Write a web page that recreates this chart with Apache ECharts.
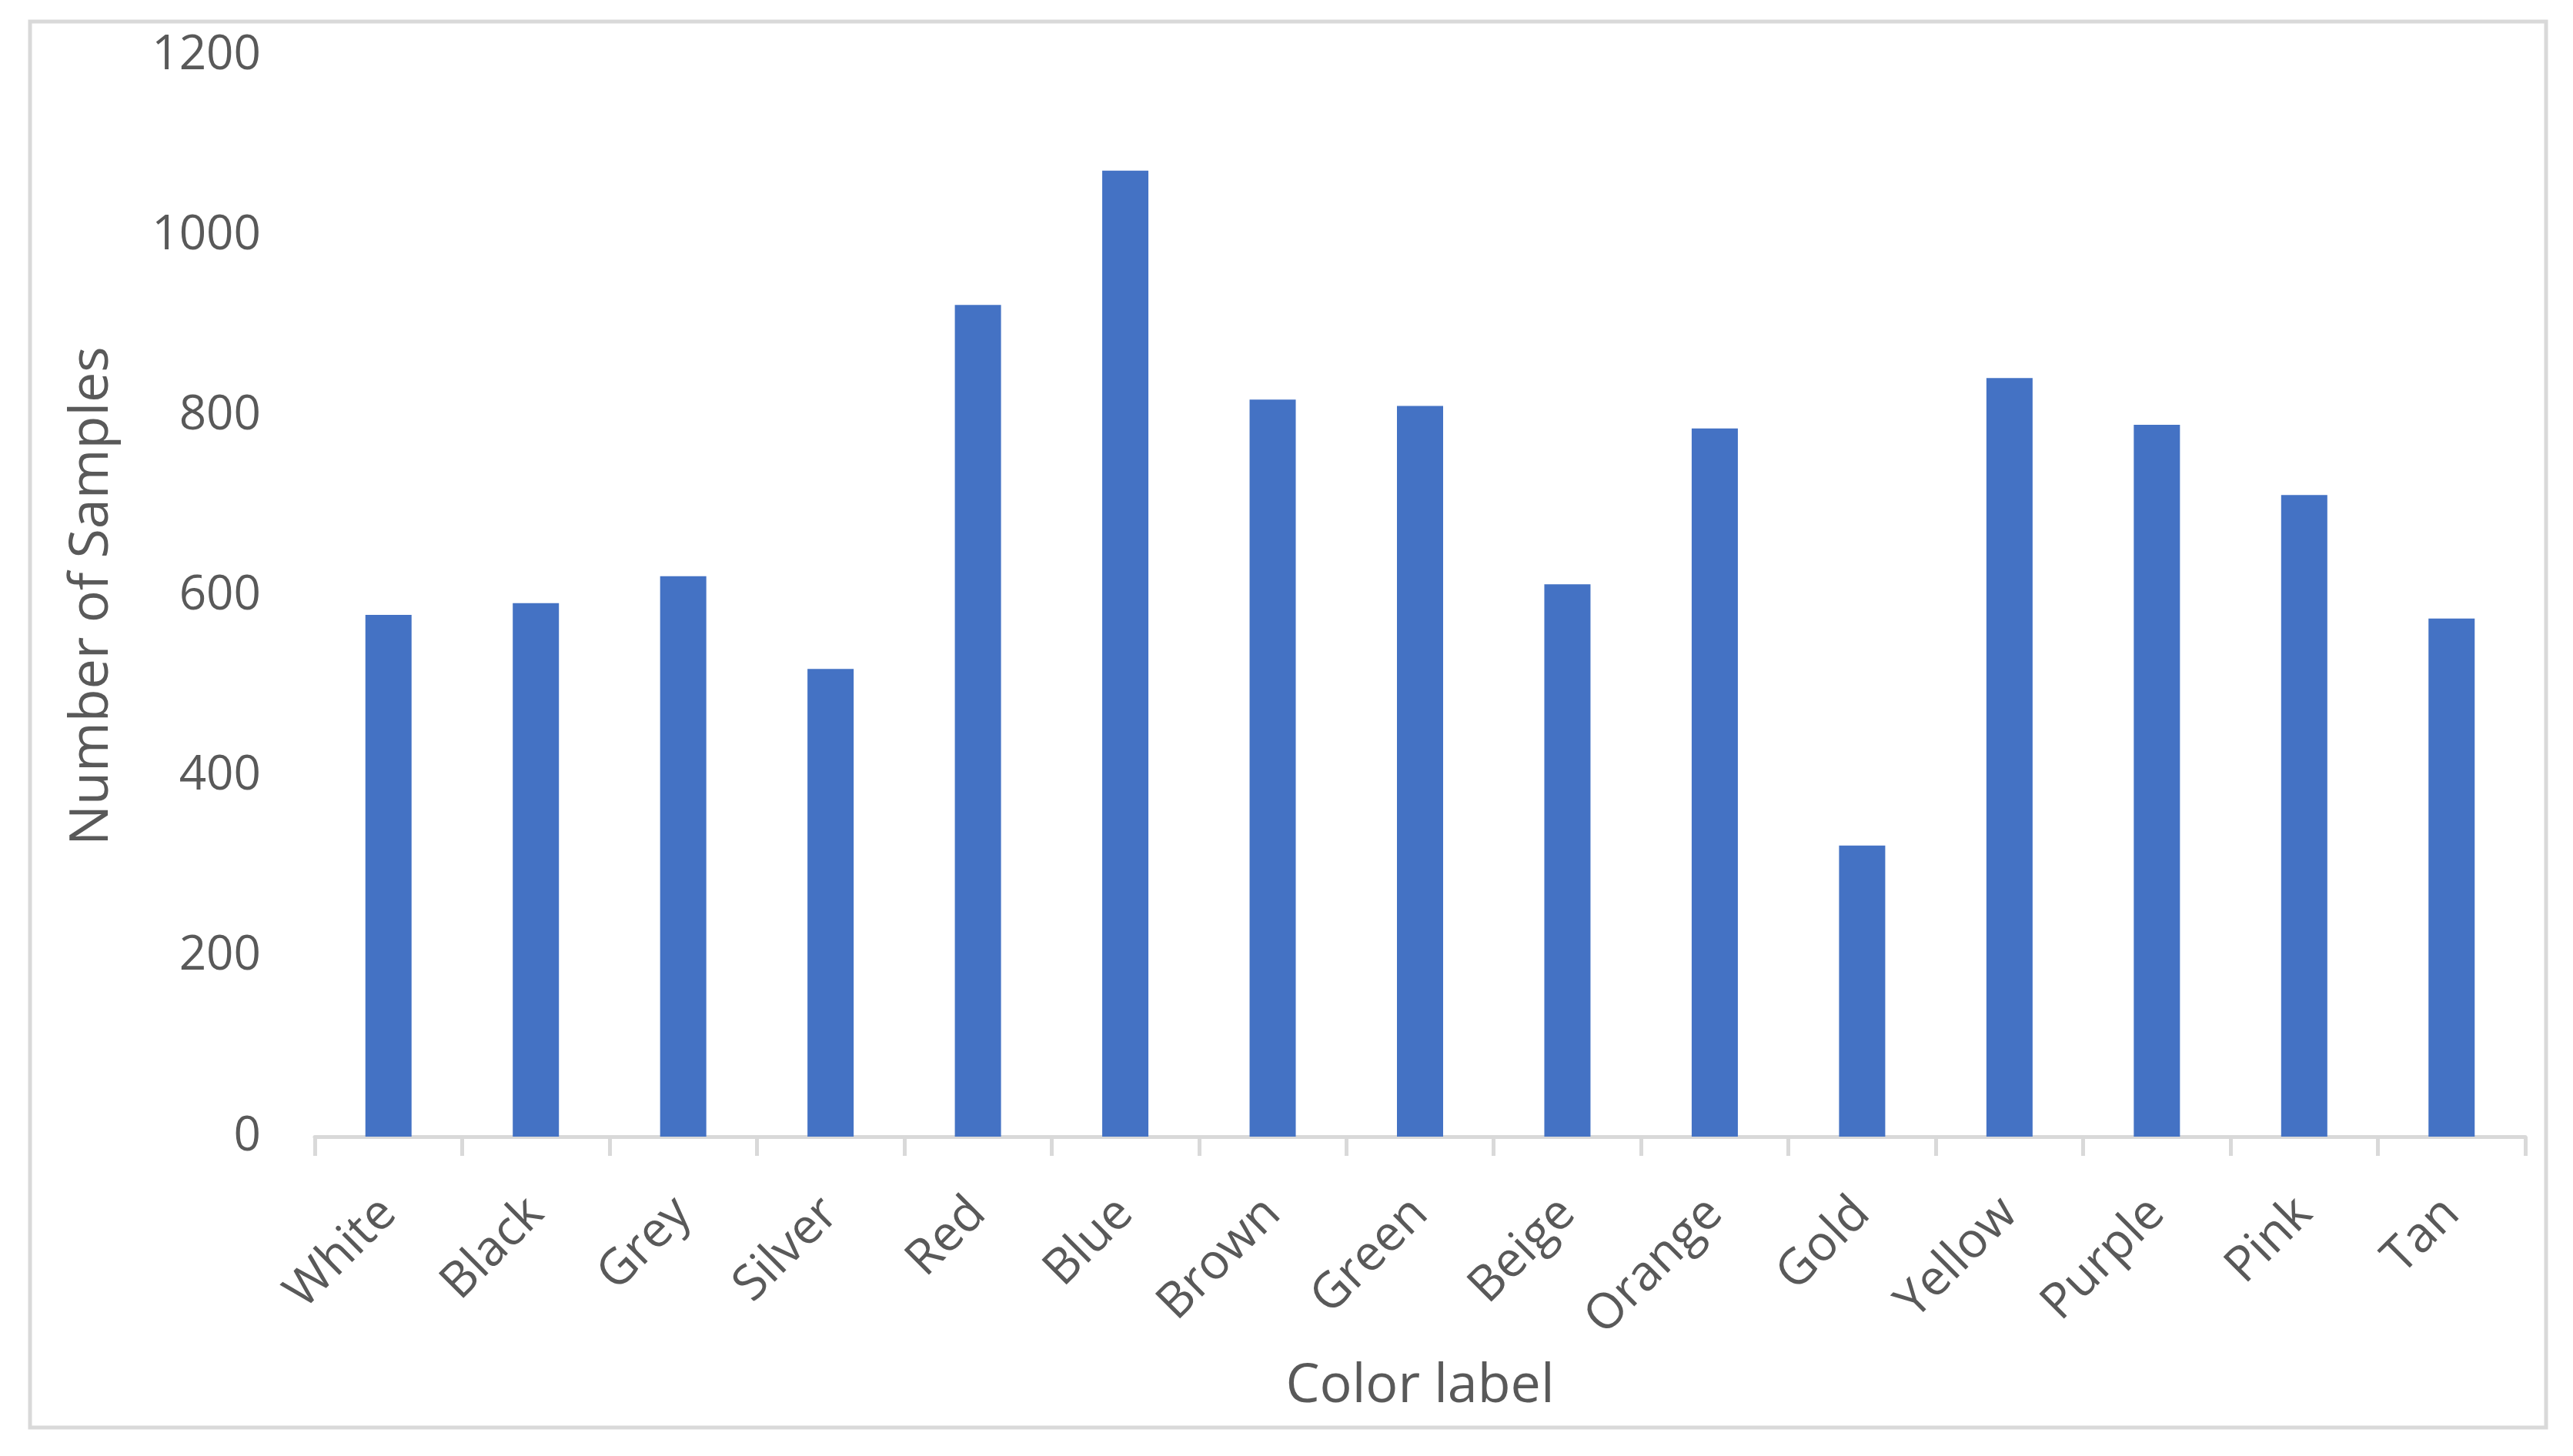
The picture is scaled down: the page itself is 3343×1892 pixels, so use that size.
<!DOCTYPE html>
<html>
<head>
<meta charset="utf-8">
<script src="https://cdn.jsdelivr.net/npm/echarts@6/dist/echarts.min.js"></script>
<style>
html,body{margin:0;padding:0;background:#fff;}
#chart{width:3343px;height:1892px;}
</style>
</head>
<body>
<div id="chart"></div>
<script>
const categories = ['White','Black','Grey','Silver','Red','Blue','Brown','Green','Beige','Orange','Gold','Yellow','Purple','Pink','Tan'];
const sampleCounts = [579, 592, 622, 519, 923, 1072, 818, 811, 613, 786, 323, 842, 790, 712, 575];
const yTicks = { min: 0, max: 1200, interval: 200 };
const xTitle = 'Color label';
const yTitle = 'Number of Samples';

const textColor = '#595959';
const fontFamily = '"Open Sans", "Noto Sans", sans-serif';

const chart = echarts.init(document.getElementById('chart'), null, { renderer: 'canvas' });
chart.setOption({
  backgroundColor: '#ffffff',
  animation: false,
  graphic: [{
    type: 'rect',
    shape: { x: 39, y: 28, width: 3269, height: 1827 },
    style: { fill: 'none', stroke: '#D9D9D9', lineWidth: 5 },
    silent: true
  }],
  grid: { left: 409, right: 62, top: 72, bottom: 415, containLabel: false },
  xAxis: {
    type: 'category',
    data: categories,
    name: xTitle,
    nameLocation: 'middle',
    nameGap: 290,
    nameTextStyle: { color: textColor, fontSize: 70, fontFamily: fontFamily },
    axisLine: { show: true, lineStyle: { color: '#D9D9D9', width: 5 } },
    axisTick: { show: true, length: 25, lineStyle: { color: '#D9D9D9', width: 5 } },
    axisLabel: { color: textColor, fontSize: 64, fontFamily: fontFamily, rotate: 45, margin: 90, interval: 0 },
    splitLine: { show: false }
  },
  yAxis: {
    type: 'value',
    min: yTicks.min,
    max: yTicks.max,
    interval: yTicks.interval,
    name: yTitle,
    nameLocation: 'middle',
    nameGap: 254,
    nameRotate: 90,
    nameTextStyle: { color: textColor, fontSize: 70, fontFamily: fontFamily },
    axisLine: { show: false },
    axisTick: { show: false },
    axisLabel: { color: textColor, fontSize: 62, fontFamily: fontFamily, margin: 70, formatter: function (v) { return String(v); } },
    splitLine: { show: false }
  },
  series: [{
    type: 'bar',
    data: sampleCounts,
    barWidth: 60,
    itemStyle: { color: '#4472C4' }
  }]
});
</script>
</body>
</html>
